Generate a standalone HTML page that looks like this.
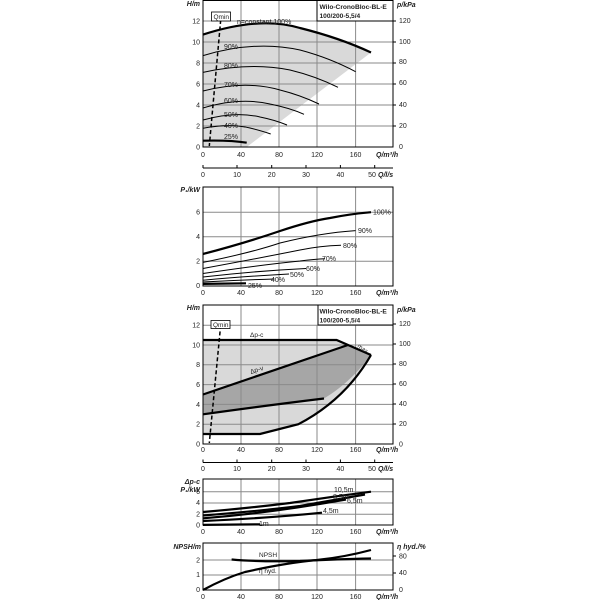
<!DOCTYPE html>
<html><head><meta charset="utf-8"><style>
html,body{margin:0;padding:0;background:#fff;}
svg{display:block;font-family:"Liberation Sans",sans-serif;}
text{font-size:7px;fill:#222;}
.g{stroke:#8a8a8a;stroke-width:1;fill:none;}
.b{stroke:#000;stroke-width:1;fill:none;}
.c{stroke:#000;stroke-width:1;fill:none;}
.t{stroke:#000;stroke-width:2.2;fill:none;}
.r{text-anchor:end;}
.m{text-anchor:middle;}
.i{font-style:italic;font-weight:bold;}
.h{font-size:6.6px;font-weight:bold;}
</style></head><body>
<svg width="600" height="600" viewBox="0 0 600 600">
<!-- ===== Chart 1 ===== -->
<path d="M203,34.6 Q258,15 300,28 Q345,40 371,52.5 L246.7,147 L203,147 Z" fill="#d9d9d9"/>
<g class="g">
<path d="M241,0V147M279,0V147M317,21V147M355.6,21V147"/>
<path d="M203,21H393M203,42H393M203,63H393M203,84H393M203,105H393M203,126H393"/>
</g>
<rect x="203" y="0.5" width="190" height="146.5" class="b"/>
<rect x="317" y="0.5" width="76" height="20.5" fill="#fff" stroke="#000"/>
<text x="319.5" y="9" class="h">Wilo-CronoBloc-BL-E</text>
<text x="319.5" y="18" class="h">100/200-5,5/4</text>
<path class="t" d="M203,34.6 Q260,16 300,28 Q340,38 371,52.5"/>
<path class="c" d="M203,55.6 Q255,40 300,50 Q330,58 355.6,71.7"/>
<path class="c" d="M203,72.4 Q250,62 290,70 Q315,76 338,87.3"/>
<path class="c" d="M203,91 Q245,80 280,90 Q300,95 319,104"/>
<path class="c" d="M203,108 Q240,97 270,104 Q290,108 304,114.3"/>
<path class="c" d="M203,120 Q235,111 260,117 Q275,120 287,125"/>
<path class="c" d="M203,128.3 Q230,123 250,128 Q262,131 270.7,134"/>
<path class="t" d="M203,140.7 Q230,140 246.7,142.7"/>
<path d="M220.7,20 L209.3,146" stroke="#000" stroke-width="1.5" stroke-dasharray="4,2.5" fill="none"/>
<rect x="211.5" y="12" width="19" height="9" fill="#fff" stroke="#000" stroke-width="0.8"/>
<text x="213.5" y="19" style="font-size:6.5px">Qmin</text>
<g style="font-size:6.5px">
<text x="237" y="24">n=constant 100%</text>
<text x="224" y="49">90%</text><text x="224" y="68">80%</text><text x="224" y="87">70%</text>
<text x="224" y="103">60%</text><text x="224" y="117">50%</text><text x="224" y="128">40%</text><text x="224" y="139">25%</text>
</g>
<text x="200" y="6" class="r i">H/m</text>
<g class="r"><text x="200" y="23.5">12</text><text x="200" y="44.5">10</text><text x="200" y="65.5">8</text><text x="200" y="86.5">6</text><text x="200" y="107.5">4</text><text x="200" y="128.5">2</text><text x="200" y="149.5">0</text></g>
<text x="397" y="7" class="i">p/kPa</text>
<path class="b" d="M393,21h3M393,42h3M393,63h3M393,84h3M393,105h3M393,126h3"/>
<g><text x="399" y="23">120</text><text x="399" y="44">100</text><text x="399" y="64">80</text><text x="399" y="85">60</text><text x="399" y="107">40</text><text x="399" y="128">20</text><text x="399" y="149">0</text></g>
<g class="m"><text x="203" y="157">0</text><text x="241" y="157">40</text><text x="279" y="157">80</text><text x="317" y="157">120</text><text x="355.6" y="157">160</text></g>
<text x="376" y="157" class="i">Q/m³/h</text>
<path class="b" d="M203,168H393M203,168V165M237,168V165M271.7,168V165M306,168V165M340.4,168V165M374.7,168V165"/>
<g class="m"><text x="203" y="177">0</text><text x="237" y="177">10</text><text x="271.7" y="177">20</text><text x="306" y="177">30</text><text x="340.4" y="177">40</text><text x="372" y="177">50</text></g>
<text x="378" y="177" class="i">Q/l/s</text>

<!-- ===== Chart 2 ===== -->
<g class="g">
<path d="M241,187V286M279,187V286M317,187V286M355.6,187V286"/>
<path d="M203,212.2H393M203,236.7H393M203,261.2H393"/>
</g>
<rect x="203" y="187" width="190" height="99" class="b"/>
<path class="t" d="M203,254 Q245,243 280,231 Q310,221 330,218 Q350,214 371,212.2"/>
<path class="c" d="M203,262.4 Q250,253 280,243 Q320,233 355.6,230.6"/>
<path class="c" d="M203,268.5 Q260,258 300,250 Q320,246 341,245.3"/>
<path class="c" d="M203,273.5 Q260,265 300,261 Q315,259 325,258.7"/>
<path class="c" d="M203,277 Q255,271 306,268.5"/>
<path class="c" d="M203,280.2 Q250,276 289,274"/>
<path class="c" d="M203,282 Q240,280 274.5,279"/>
<path class="t" d="M203,283.9 L246,283.3"/>
<g style="font-size:6.5px">
<text x="373" y="214.5">100%</text><text x="358" y="233">90%</text><text x="343" y="248">80%</text><text x="322" y="261">70%</text>
<text x="306" y="271">60%</text><text x="290" y="277">50%</text><text x="271" y="282">40%</text><text x="248" y="288">25%</text>
</g>
<text x="200" y="192" class="r i">P₁/kW</text>
<g class="r"><text x="200" y="214.5">6</text><text x="200" y="239">4</text><text x="200" y="263.5">2</text><text x="200" y="288">0</text></g>
<g class="m"><text x="203" y="295">0</text><text x="241" y="295">40</text><text x="279" y="295">80</text><text x="317" y="295">120</text><text x="355.6" y="295">160</text></g>
<text x="376" y="295" class="i">Q/m³/h</text>

<!-- ===== Chart 3 ===== -->
<path d="M203,340 L336.6,340 L348,345 L371,355 Q345,400 298.4,424.2 L260,434 L203,434 Z" fill="#d9d9d9"/>
<path d="M203,394.5 L348,345 L371,355 Q350,383 324,398.5 Q270,405 203,414.3 Z" fill="#a6a6a6"/>
<g class="g">
<path d="M241,305V444M279,305V444M317,325V444M355.6,325V444"/>
<path d="M203,325.2H393M203,345H393M203,364.8H393M203,384.6H393M203,404.4H393M203,424.2H393"/>
</g>
<rect x="203" y="305" width="190" height="139" class="b"/>
<rect x="318" y="305" width="75" height="20" fill="#fff" stroke="#000"/>
<text x="319.5" y="313.5" class="h">Wilo-CronoBloc-BL-E</text>
<text x="319.5" y="322.5" class="h">100/200-5,5/4</text>
<path class="t" d="M203,340 L336.6,340 L371,355"/>
<path class="t" d="M203,394.5 L348,345"/>
<path class="t" d="M203,414.3 Q270,405 324,398.5"/>
<path class="t" d="M371,355 Q345,400 298.4,424.2 L260,434 L203,434"/>
<path d="M220.7,325 L209.3,443" stroke="#000" stroke-width="1.5" stroke-dasharray="4,2.5" fill="none"/>
<rect x="211" y="320.5" width="19" height="8" fill="#fff" stroke="#000" stroke-width="0.8"/>
<text x="213" y="327" style="font-size:6.5px">Qmin</text>
<text x="250" y="337" style="font-size:6.5px">Δp-c</text>
<text x="251" y="374" style="font-size:6.5px" transform="rotate(-18 251 374)">Δp-v</text>
<text x="357" y="347" style="font-size:6px" transform="rotate(35 357 347)">max</text>
<text x="200" y="310" class="r i">H/m</text>
<g class="r"><text x="200" y="327.5">12</text><text x="200" y="347.5">10</text><text x="200" y="367">8</text><text x="200" y="387">6</text><text x="200" y="407">4</text><text x="200" y="426.5">2</text><text x="200" y="446.5">0</text></g>
<text x="397" y="312" class="i">p/kPa</text>
<path class="b" d="M393,324h3M393,344h3M393,364h3M393,384h3M393,404h3M393,424h3"/>
<g><text x="399" y="326">120</text><text x="399" y="346">100</text><text x="399" y="366">80</text><text x="399" y="386">60</text><text x="399" y="406">40</text><text x="399" y="426">20</text><text x="399" y="446.5">0</text></g>
<g class="m"><text x="203" y="452">0</text><text x="241" y="452">40</text><text x="279" y="452">80</text><text x="317" y="452">120</text><text x="355.6" y="452">160</text></g>
<text x="376" y="452" class="i">Q/m³/h</text>
<path class="b" d="M203,462.5H393M203,462.5V459.5M237,462.5V459.5M271.7,462.5V459.5M306,462.5V459.5M340.4,462.5V459.5M374.7,462.5V459.5"/>
<g class="m"><text x="203" y="471">0</text><text x="237" y="471">10</text><text x="271.7" y="471">20</text><text x="306" y="471">30</text><text x="340.4" y="471">40</text><text x="372" y="471">50</text></g>
<text x="378" y="471" class="i">Q/l/s</text>

<!-- ===== Chart 4 ===== -->
<g class="g">
<path d="M241,479V525M279,479V525M317,479V525M355.6,479V525"/>
<path d="M203,491.7H393M203,503H393M203,514.3H393"/>
</g>
<rect x="203" y="479" width="190" height="46" class="b"/>
<path class="t" d="M203,512 Q250,508 290,503 Q330,497 371,491.7"/>
<path class="t" d="M203,515.5 Q260,511 300,506 Q340,499 365,494.5"/>
<path class="t" d="M203,518.3 Q270,513 346,499.6"/>
<path class="t" d="M203,521 Q270,518 322,512.7"/>
<path class="t" d="M203,524.9 L260,524.3"/>
<g style="font-size:6.5px">
<text x="334" y="492">10,5m</text><text x="333" y="499">8,5m</text><text x="347" y="503">6,5m</text><text x="323" y="513">4,5m</text><text x="259" y="526">1m</text>
</g>
<text x="200" y="484" class="r i">Δp-c</text>
<text x="200" y="492" class="r i">P₁/kW</text>
<g class="r"><text x="200" y="494">6</text><text x="200" y="505">4</text><text x="200" y="516.5">2</text><text x="200" y="527.5">0</text></g>
<g class="m"><text x="203" y="534">0</text><text x="241" y="534">40</text><text x="279" y="534">80</text><text x="317" y="534">120</text><text x="355.6" y="534">160</text></g>
<text x="376" y="534" class="i">Q/m³/h</text>

<!-- ===== Chart 5 ===== -->
<g class="g">
<path d="M241,543V590M279,543V590M317,543V590M355.6,543V590"/>
<path d="M203,560H393M203,575H393"/>
</g>
<rect x="203" y="543" width="190" height="47" class="b"/>
<path class="t" d="M231.6,559.5 Q260,562 300,561 Q340,559 371,558.5"/>
<path class="t" d="M203,590 Q225,578 245,572 Q285,563 317,560 Q345,557 371,550"/>
<text x="259" y="557" style="font-size:6.5px">NPSH</text>
<text x="259" y="573" style="font-size:6.5px">η hyd.</text>
<text x="201" y="549" class="r i">NPSH/m</text>
<g class="r"><text x="200" y="562.5">2</text><text x="200" y="577">1</text><text x="200" y="592">0</text></g>
<text x="397" y="549" class="i">η hyd./%</text>
<path class="b" d="M393,556h3M393,573h3"/>
<g><text x="399" y="558.5">80</text><text x="399" y="575">40</text><text x="399" y="592">0</text></g>
<g class="m"><text x="203" y="599">0</text><text x="241" y="599">40</text><text x="279" y="599">80</text><text x="317" y="599">120</text><text x="355.6" y="599">160</text></g>
<text x="376" y="599" class="i">Q/m³/h</text>
</svg>
</body></html>
